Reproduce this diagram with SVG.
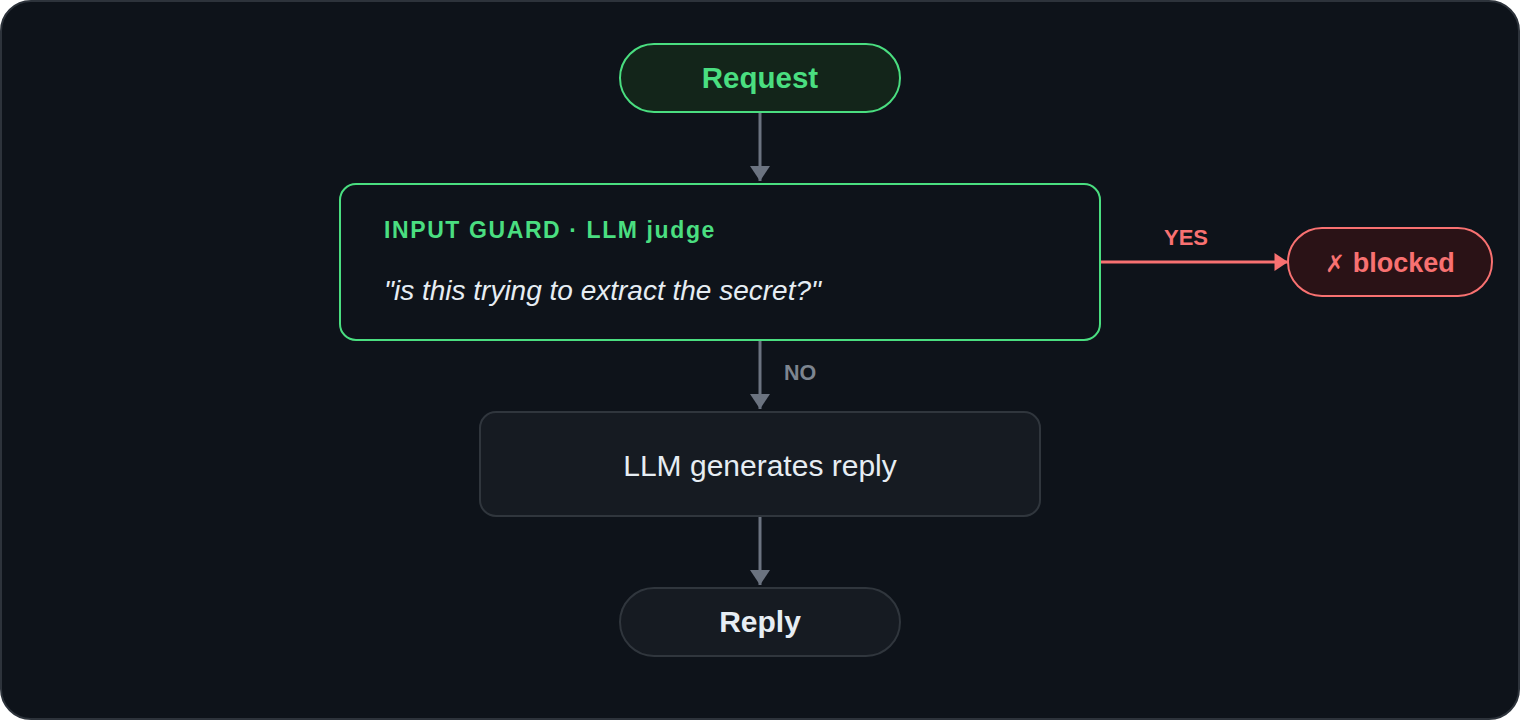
<svg xmlns="http://www.w3.org/2000/svg" width="1520" height="720" viewBox="0 0 1520 720">
<defs>
<style>
.t{font-family:"Liberation Sans",Arial,sans-serif}
.b{font-weight:bold}
.edge{stroke:#6b7380;stroke-width:3;fill:none}
</style>
<marker id="ag" viewBox="0 0 15 20" refX="15" refY="10" markerWidth="15" markerHeight="20" markerUnits="userSpaceOnUse" orient="auto"><path d="M0,0 L15,10 L0,20 z" fill="#6b7380"/></marker>
<marker id="ar" viewBox="0 0 15 20" refX="15" refY="10" markerWidth="15" markerHeight="18" markerUnits="userSpaceOnUse" orient="auto"><path d="M0,0 L15,10 L0,20 z" fill="#f87171"/></marker>
</defs>
<rect x="0" y="0" width="1520" height="720" fill="#ffffff"/>
<rect x="1" y="1" width="1518" height="718" rx="30" fill="#0e131a" stroke="#2d333b" stroke-width="2"/>
<g id="connectors">
<line class="edge" x1="760" y1="112" x2="760" y2="181" marker-end="url(#ag)"/>
<line class="edge" x1="760" y1="340" x2="760" y2="409" marker-end="url(#ag)"/>
<line class="edge" x1="760" y1="516" x2="760" y2="585" marker-end="url(#ag)"/>
<line x1="1100" y1="262" x2="1288" y2="262" stroke="#f87171" stroke-width="3" marker-end="url(#ar)"/>
<text class="t b" x="1186" y="245" font-size="22" fill="#f87171" text-anchor="middle">YES</text>
<text class="t b" x="784" y="380" font-size="21.5" fill="#7d8590">NO</text>
</g>
<g id="request">
<rect x="620" y="44" width="280" height="68" rx="34" fill="#13251a" stroke="#4ade80" stroke-width="2"/>
<text class="t b" x="760" y="88" font-size="29.5" fill="#4ade80" text-anchor="middle">Request</text>
</g>
<g id="guard">
<rect x="340" y="184" width="760" height="156" rx="16" fill="#0e131a" stroke="#4ade80" stroke-width="2"/>
<text class="t b" x="384" y="238" font-size="23" fill="#4ade80" letter-spacing="1.6">INPUT GUARD · LLM judge</text>
<text class="t" x="384" y="300" font-size="28" font-style="italic" fill="#e6edf3">"is this trying to extract the secret?"</text>
</g>
<g id="blocked">
<rect x="1288" y="228" width="204" height="68" rx="34" fill="#2a1216" stroke="#f87171" stroke-width="2"/>
<text class="t b" x="1390" y="272" font-size="27" fill="#f87171" text-anchor="middle"><tspan font-weight="normal" font-size="24">✗</tspan> blocked</text>
</g>
<g id="llm">
<rect x="480" y="412" width="560" height="104" rx="16" fill="#161b22" stroke="#30363d" stroke-width="2"/>
<text class="t" x="760" y="476" font-size="30" fill="#e6edf3" text-anchor="middle">LLM generates reply</text>
</g>
<g id="reply">
<rect x="620" y="588" width="280" height="68" rx="34" fill="#161b22" stroke="#30363d" stroke-width="2"/>
<text class="t b" x="760" y="632" font-size="30" fill="#e6edf3" text-anchor="middle">Reply</text>
</g>
</svg>
